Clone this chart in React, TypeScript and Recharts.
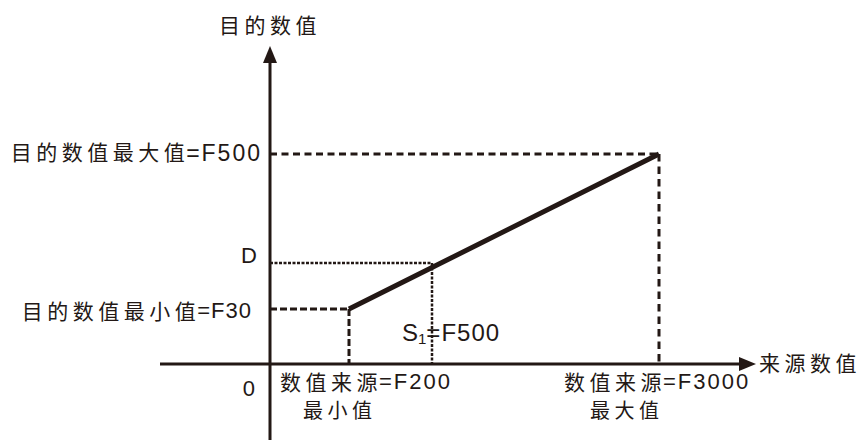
import { ComposedChart, Line, XAxis, YAxis, ReferenceLine, ReferenceDot } from "recharts"

const INK = "#231815"
const CJK = '"Noto Sans CJK SC", "Noto Sans CJK JP", sans-serif'
const LATIN = '"Liberation Sans", Arial, sans-serif'

// schematic units (the figure is not to scale), origin where the axes cross
const xRange = [-2.2, 9.72]
const yRange = [-1.52, 6.36]
const sourceMinMax = [1.58, 7.78]
const targetMinMax = [1.1, 4.2]
const sampleSource = [3.24]
const sampleTarget = [2.02]

const axisTitles = ["目的数值", "来源数值"]
const targetNames = ["目的数值最小值", "目的数值最大值"]
const targetRegs = ["=F30", "=F500"]
const sourceNames = ["数值来源", "数值来源"]
const sourceRegs = ["=F200", "=F3000"]
const sourceNotes = ["最小值", "最大值"]
const sampleNames = ["D", "S", "1", "=F500"]
const originLabel = "0"

const lineData = sourceMinMax.map((x, i) => ({ source: x, target: targetMinMax[i] }))

type Part = { text: string; latin?: boolean; size?: number; dy?: number; dx?: number; spacing?: number }

function Note({ cx, cy, dx = 0, dy = 0, anchor = "start", parts }: any) {
  return (
    <text x={cx + dx} y={cy + dy} textAnchor={anchor} dominantBaseline="central" fill={INK}>
      {(parts as Part[]).map((p, i) => (
        <tspan
          key={i}
          dx={p.dx}
          dy={p.dy}
          fontFamily={p.latin ? LATIN : CJK}
          fontSize={p.size ?? (p.latin ? 22 : 21)}
          letterSpacing={p.spacing ?? (p.latin ? 2 : 4.5)}
        >
          {p.text}
        </tspan>
      ))}
    </text>
  )
}

function Arrow(p: any) {
  const { x1, y1, x2, y2 } = p
  const len = Math.hypot(x2 - x1, y2 - y1) || 1
  const ux = (x2 - x1) / len
  const uy = (y2 - y1) / len
  const head = 17
  const half = 7
  const bx = x2 - ux * head
  const by = y2 - uy * head
  return (
    <g>
      <line x1={x1} y1={y1} x2={bx + ux * 2} y2={by + uy * 2} stroke={INK} strokeWidth={3} />
      <polygon
        points={`${x2},${y2} ${bx - uy * half},${by + ux * half} ${bx + uy * half},${by - ux * half}`}
        fill={INK}
      />
    </g>
  )
}

const dashed = { stroke: INK, strokeWidth: 3 }
const dotted = { stroke: INK, strokeWidth: 2.5, strokeDasharray: "3 1.5" }

export default function App() {
  const [x0, x1] = xRange
  const [y0, y1] = yRange
  const [sMin, sMax] = sourceMinMax
  const [tMin, tMax] = targetMinMax
  return (
    <div style={{ position: "fixed", left: 0, top: 0, width: 862, height: 443, background: "#fff" }}>
      <ComposedChart
        width={862}
        height={443}
        data={lineData}
        margin={{ top: 46, right: 106, bottom: 3, left: 160 }}
      >
        <XAxis dataKey="source" type="number" domain={xRange} hide allowDataOverflow />
        <YAxis dataKey="target" type="number" domain={yRange} hide allowDataOverflow />

        {/* guide lines */}
        <ReferenceLine segment={[{ x: 0, y: tMax }, { x: sMax, y: tMax }]} {...dashed} strokeDasharray="7 4.5" />
        <ReferenceLine segment={[{ x: sMax, y: tMax }, { x: sMax, y: 0 }]} {...dashed} strokeDasharray="7.5 5" />
        <ReferenceLine segment={[{ x: 0, y: tMin }, { x: sMin, y: tMin }]} {...dashed} strokeDasharray="7 3" />
        <ReferenceLine segment={[{ x: sMin, y: tMin }, { x: sMin, y: 0 }]} {...dashed} strokeDasharray="7 3" />
        <ReferenceLine segment={[{ x: 0, y: sampleTarget[0] }, { x: sampleSource[0], y: sampleTarget[0] }]} {...dotted} />
        <ReferenceLine segment={[{ x: sampleSource[0], y: sampleTarget[0] }, { x: sampleSource[0], y: 0 }]} {...dotted} />

        {/* axes with arrow heads */}
        <ReferenceLine segment={[{ x: x0, y: 0 }, { x: x1, y: 0 }]} shape={Arrow} />
        <ReferenceLine segment={[{ x: 0, y: y0 }, { x: 0, y: y1 }]} shape={Arrow} />

        <Line
          type="linear"
          dataKey="target"
          stroke={INK}
          strokeWidth={5}
          dot={false}
          activeDot={false}
          isAnimationActive={false}
        />

        {/* labels */}
        <ReferenceDot x={0} y={y1} shape={(p: any) => (
          <Note cx={p.cx} cy={p.cy} dy={-22} anchor="middle" parts={[{ text: axisTitles[0] }]} />
        )} />
        <ReferenceDot x={x1} y={0} shape={(p: any) => (
          <Note cx={p.cx} cy={p.cy} dx={3} dy={-2} parts={[{ text: axisTitles[1] }]} />
        )} />
        <ReferenceDot x={0} y={tMax} shape={(p: any) => (
          <Note cx={p.cx} cy={p.cy} dx={-8} dy={-3} anchor="end" parts={[
            { text: targetNames[1] },
            { text: targetRegs[1], latin: true, size: 23, dx: -3, dy: 2 },
          ]} />
        )} />
        <ReferenceDot x={0} y={sampleTarget[0]} shape={(p: any) => (
          <Note cx={p.cx} cy={p.cy} dx={-13} dy={-8} anchor="end" parts={[{ text: sampleNames[0], latin: true, spacing: 0 }]} />
        )} />
        <ReferenceDot x={0} y={tMin} shape={(p: any) => (
          <Note cx={p.cx} cy={p.cy} dx={-18} dy={1} anchor="end" parts={[
            { text: targetNames[0] },
            { text: targetRegs[0], latin: true, dx: -3, spacing: 1 },
          ]} />
        )} />
        <ReferenceDot x={0} y={0} shape={(p: any) => (
          <Note cx={p.cx} cy={p.cy} dx={-15} dy={24} anchor="end" parts={[{ text: originLabel, latin: true, spacing: 0 }]} />
        )} />
        <ReferenceDot x={sampleSource[0]} y={0} shape={(p: any) => (
          <Note cx={p.cx} cy={p.cy} dx={-30} dy={-32} parts={[
            { text: sampleNames[1], latin: true, size: 24, spacing: 0 },
            { text: sampleNames[2], latin: true, size: 15, dy: 6, spacing: 0 },
            { text: sampleNames[3], latin: true, size: 24, dy: -6, spacing: 1 },
          ]} />
        )} />
        <ReferenceDot x={0} y={0} shape={(p: any) => (
          <Note cx={p.cx} cy={p.cy} dx={10} dy={17} parts={[
            { text: sourceNames[0] },
            { text: sourceRegs[0], latin: true, dx: -3 },
          ]} />
        )} />
        <ReferenceDot x={sMin} y={0} shape={(p: any) => (
          <Note cx={p.cx} cy={p.cy} dx={-46} dy={45} parts={[{ text: sourceNotes[0], size: 20 }]} />
        )} />
        <ReferenceDot x={sMax} y={0} shape={(p: any) => (
          <Note cx={p.cx} cy={p.cy} dx={-95} dy={17} parts={[
            { text: sourceNames[1] },
            { text: sourceRegs[1], latin: true, dx: -3 },
          ]} />
        )} />
        <ReferenceDot x={sMax} y={0} shape={(p: any) => (
          <Note cx={p.cx} cy={p.cy} dx={-69} dy={45} parts={[{ text: sourceNotes[1], size: 20 }]} />
        )} />
      </ComposedChart>
    </div>
  )
}
